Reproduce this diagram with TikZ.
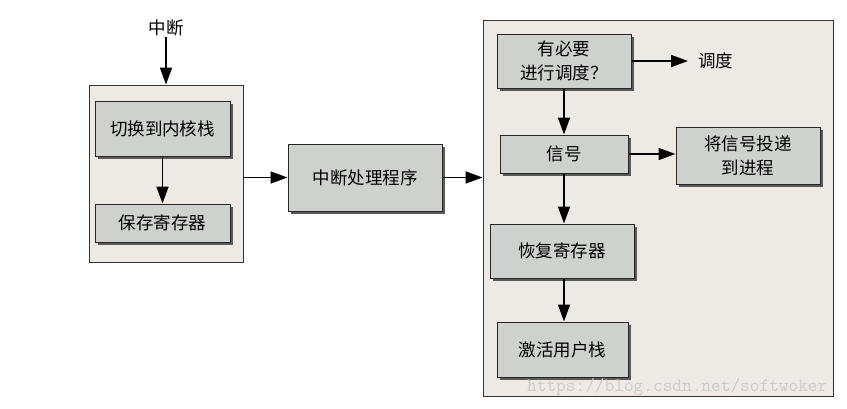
\documentclass[tikz,border=0pt]{standalone}
\usepackage{fontspec}
\setmainfont{Noto Sans CJK SC}
\usetikzlibrary{arrows.meta,shadows}
\definecolor{boxfill}{HTML}{CFD1CF}
\definecolor{contfill}{HTML}{EDEAE6}
\definecolor{shadowc}{HTML}{5A5A5A}
\tikzset{
  cont/.style={draw=black!80, line width=0.9pt, fill=contfill, inner sep=0pt},
  stepbox/.style={draw=black!85, line width=1pt, fill=boxfill, align=center,
    font=\fontsize{17.5}{24}\selectfont, inner sep=0pt,
    general shadow={fill=shadowc, shadow xshift=3pt, shadow yshift=-3pt}},
  lbl/.style={font=\fontsize{17.5}{24}\selectfont, inner sep=1pt},
  arr/.style={line width=1.7pt, -{Triangle[length=17pt,width=12pt]}},
}
\begin{document}
\begin{tikzpicture}[x=1pt,y=-1pt]
\useasboundingbox (0,0) rectangle (847,408);
% left container
\node[cont, minimum width=154pt, minimum height=177pt] (left) at (166,173.5) {};
\node[stepbox, minimum width=135pt, minimum height=55pt] (k1) at (162.5,128.5) {切换到内核栈};
\node[stepbox, minimum width=135pt, minimum height=38pt] (k2) at (162.5,223) {保存寄存器};
\node[lbl] (int) at (166,28) {中断};
% handler
\node[stepbox, minimum width=154pt, minimum height=67pt] (h) at (365,177.5) {中断处理程序};
% right container
\node[cont, minimum width=350pt, minimum height=376pt] (right) at (658,208) {};
\node[stepbox, minimum width=134pt, minimum height=54pt] (s1) at (564,61) {有必要\\进行调度？};
\node[stepbox, minimum width=128pt, minimum height=38pt] (s2) at (564,154) {信号};
\node[stepbox, minimum width=144pt, minimum height=57pt] (s3) at (748,155.5) {将信号投递\\到进程};
\node[stepbox, minimum width=144pt, minimum height=54pt] (s4) at (562,251) {恢复寄存器};
\node[stepbox, minimum width=131pt, minimum height=55pt] (s5) at (562.5,349.5) {激活用户栈};
\node[lbl, anchor=west, inner xsep=10pt] (sched) at (688,61) {调度};
% watermark
\node[inner sep=0pt, anchor=west, text=black!20, font=\ttfamily\fontsize{18.8}{20}\selectfont] (wm) at (527,387) {https://blog.csdn.net/softwoker};
% arrows
\draw[arr] (int.south) -- (left.north);
\draw[arr] (k1.south) -- (k1.south |- k2.north);
\draw[arr] (h.west -| left.east) -- (h.west);
\draw[arr] (h.east) -- (h.east -| right.west);
\draw[arr] (s1.east) -- (sched.west);
\draw[arr] (s1.south) -- (s2.north);
\draw[arr] (s2.east) -- (s2.east -| s3.west);
\draw[arr] (s2.south) -- (s2.south |- s4.north);
\draw[arr] (s2.south |- s4.south) -- (s2.south |- s5.north);
\end{tikzpicture}
\end{document}
